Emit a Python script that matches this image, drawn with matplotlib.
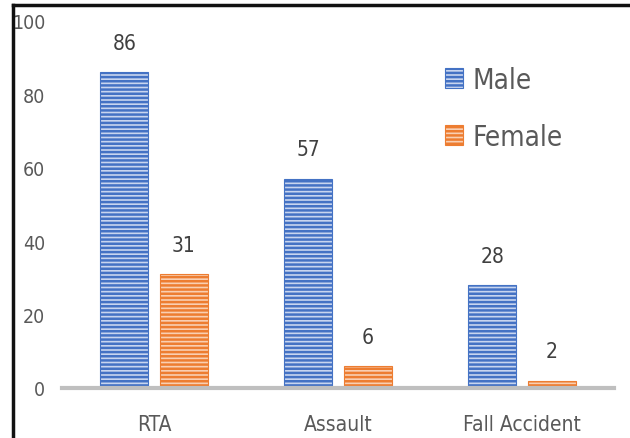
import matplotlib.pyplot as plt
from matplotlib.lines import Line2D
import numpy as np

categories = ['RTA', 'Assault', 'Fall Accident']
male = [86, 57, 28]
female = [31, 6, 2]
yticks = [0, 20, 40, 60, 80, 100]

plt.rcParams['font.family'] = ['DejaVu Sans']
plt.rcParams['font.stretch'] = 'condensed'
plt.rcParams['hatch.linewidth'] = 1.8

fig = plt.figure(figsize=(6.3, 4.39), dpi=100)
ax = fig.add_axes([0.0984, 0.1139, 0.8762, 0.8371])

x = np.arange(len(categories))
w = 0.26
blue = '#4472C4'
orange = '#ED7D31'
txt = '#595959'

b1 = ax.bar(x - 0.161, male, w, facecolor='#c8d5ef', edgecolor=blue,
            hatch='----', linewidth=0.8, label='Male')
b2 = ax.bar(x + 0.161, female, w, facecolor='#f9cfb2', edgecolor=orange,
            hatch='----', linewidth=0.8, label='Female')

for bars in (b1, b2):
    for r in bars:
        ax.annotate(str(int(r.get_height())),
                    (r.get_x() + r.get_width() / 2, r.get_height()),
                    xytext=(0, 14), textcoords='offset points',
                    ha='center', va='bottom', fontsize=15, color='#404040')

ax.set_xlim(-0.5, 2.5)
ax.set_ylim(0, 100)
ax.set_yticks(yticks)
ax.set_xticks(x)
ax.set_xticklabels(categories)
ax.tick_params(axis='y', length=0, pad=12, labelsize=14, labelcolor=txt)
ax.tick_params(axis='x', length=0, pad=19, labelsize=15, labelcolor=txt)
for s in ('top', 'right', 'left'):
    ax.spines[s].set_visible(False)
ax.spines['bottom'].set_color('#bfbfbf')
ax.spines['bottom'].set_linewidth(3)

ax.legend(loc='upper left', bbox_to_anchor=(0.666, 0.905),
          bbox_transform=fig.transFigure, frameon=False, fontsize=20,
          handlelength=0.65, handleheight=0.7, handletextpad=0.35,
          labelspacing=1.05, labelcolor=txt)

# outer frame (top and left edges)
fig.add_artist(Line2D([13/630, 1], [1 - 6/439, 1 - 6/439], color='#111111',
                      linewidth=2.5, transform=fig.transFigure))
fig.add_artist(Line2D([13/630, 13/630], [0, 1 - 6/439], color='#111111',
                      linewidth=2.5, transform=fig.transFigure))

fig.savefig('out.png', dpi=100)
